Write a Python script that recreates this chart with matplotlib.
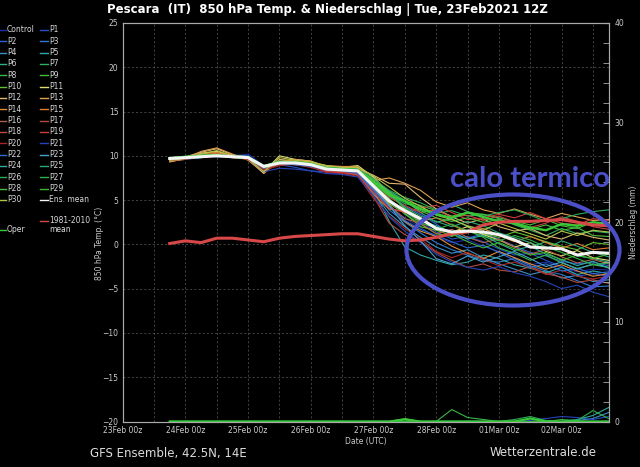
import numpy as np
import matplotlib
matplotlib.use("Agg")
import matplotlib.pyplot as plt
from matplotlib.lines import Line2D
from matplotlib.patches import Ellipse
from matplotlib.ticker import MultipleLocator

# valid times, hours after 23Feb 00z (6-hourly output)
hours = np.arange(18, 187, 6)
day_ticks = [0, 24, 48, 72, 96, 120, 144, 168]
day_labels = ["23Feb 00z", "24Feb 00z", "25Feb 00z", "26Feb 00z",
              "27Feb 00z", "28Feb 00z", "01Mar 00z", "02Mar 00z"]

# 850 hPa temperature (C) per member
t_control = [9.6, 9.8, 10.0, 10.1, 9.9, 10.2, 8.9, 9.3, 9.4, 9.0, 8.4, 8.2, 8.1, 6.0, 4.2, 3.0, 1.9, 0.8, 0.2, 0.5, -0.2, -0.8, -1.5, -2.3, -2.0, -2.6, -3.1, -2.8, -2.9]
t_p1 = [9.8, 9.7, 9.9, 10.2, 10.0, 9.7, 8.6, 9.0, 8.7, 8.3, 8.2, 8.0, 7.9, 6.4, 4.8, 3.5, 2.6, 1.4, 0.6, 0.9, 0.3, -0.5, -1.2, -1.0, -1.8, -2.5, -3.6, -3.3, -3.6]
t_p2 = [9.5, 9.9, 10.1, 9.9, 9.8, 9.9, 8.5, 9.1, 9.3, 9.1, 8.6, 8.5, 8.4, 7.0, 5.5, 4.3, 3.4, 2.3, 1.1, 0.7, 1.2, 0.6, -0.2, -0.9, -1.3, -1.9, -2.2, -2.0, -2.4]
t_p3 = [9.7, 9.6, 9.8, 10.0, 10.1, 10.0, 8.7, 9.4, 9.1, 8.8, 8.3, 8.4, 8.2, 6.3, 3.9, 2.5, 1.3, 0.2, -0.6, -1.2, -1.8, -2.0, -1.6, -2.4, -3.0, -3.4, -4.1, -4.8, -4.7]
t_p4 = [9.6, 9.8, 10.0, 9.9, 10.0, 9.8, 8.8, 9.2, 9.0, 8.9, 8.5, 8.3, 7.8, 5.8, 3.5, 2.0, 0.8, -0.3, -1.0, -0.6, -1.5, -2.2, -2.8, -3.4, -3.0, -3.8, -3.5, -4.2, -4.0]
t_p5 = [9.5, 9.7, 9.8, 10.1, 9.9, 9.9, 8.9, 9.3, 9.2, 8.9, 8.6, 8.5, 8.0, 6.2, 2.6, -0.3, -1.2, -1.8, -2.3, -2.0, -1.2, -1.6, -2.3, -2.7, -3.2, -2.6, -3.4, -3.0, -3.3]
t_p6 = [9.6, 9.8, 10.0, 10.0, 9.8, 9.7, 8.4, 9.1, 9.3, 9.2, 8.7, 8.6, 8.5, 7.3, 6.0, 5.0, 3.6, 2.5, 2.9, 2.0, 1.8, 1.1, 0.4, -0.3, 0.3, -0.4, -1.3, -1.6, -2.0]
t_p7 = [9.8, 9.9, 10.0, 10.1, 10.0, 9.9, 8.8, 9.3, 9.3, 9.1, 8.6, 8.6, 8.6, 7.5, 5.6, 4.6, 4.2, 3.5, 3.8, 3.2, 3.4, 2.9, 2.2, 1.6, 1.0, 1.8, 1.2, 1.5, 1.3]
t_p8 = [9.7, 9.9, 10.0, 10.0, 9.9, 9.8, 8.7, 9.2, 9.3, 9.1, 8.5, 8.5, 8.4, 6.8, 5.2, 3.4, 2.3, 1.2, 0.9, 1.6, 0.8, -0.4, -1.0, -1.8, -1.2, -2.1, -2.7, -2.3, -2.6]
t_p9 = [9.7, 9.8, 9.9, 10.0, 9.9, 9.9, 8.9, 9.3, 9.2, 9.0, 8.5, 8.4, 8.3, 6.9, 5.4, 4.9, 4.4, 3.8, 3.2, 3.6, 3.4, 3.0, 2.6, 2.2, 2.8, 2.1, 1.8, 2.5, 2.4]
t_p10 = [9.8, 9.8, 10.0, 10.0, 9.9, 9.8, 8.6, 9.0, 9.1, 8.9, 8.5, 8.4, 8.2, 6.6, 4.6, 3.5, 2.0, 1.6, 1.0, 1.5, 1.2, 0.8, 1.4, 0.9, 0.3, -0.2, -0.6, 0.2, 0.0]
t_p11 = [9.4, 9.6, 10.3, 10.5, 10.0, 9.9, 8.2, 10.0, 9.6, 9.4, 8.8, 8.7, 8.9, 7.6, 5.8, 4.0, 3.0, 1.9, 1.4, 2.0, 1.1, 0.5, -0.3, 0.2, -0.8, -1.3, -0.7, -1.5, -1.8]
t_p12 = [9.6, 9.9, 10.4, 10.8, 10.1, 9.6, 8.0, 9.6, 9.4, 9.1, 8.7, 8.8, 8.6, 7.8, 6.9, 6.8, 5.3, 4.0, 3.1, 2.4, 2.9, 2.0, 1.5, 1.8, 1.0, 0.6, 1.3, 0.8, 0.5]
t_p13 = [9.3, 9.7, 10.5, 10.9, 10.2, 9.5, 8.1, 9.4, 9.6, 9.4, 8.6, 8.4, 8.7, 7.2, 7.5, 6.9, 6.1, 4.8, 4.2, 4.7, 3.9, 3.5, 4.0, 3.4, 2.9, 3.5, 3.1, 2.7, 2.8]
t_p14 = [9.6, 9.8, 10.2, 10.4, 9.9, 9.6, 8.3, 9.2, 9.5, 9.3, 8.9, 8.8, 8.8, 6.5, 4.5, 2.6, 1.5, 0.9, -0.2, -1.0, -1.6, -0.8, -1.5, -2.2, -2.8, -2.3, -3.0, -3.6, -3.3]
t_p15 = [9.5, 9.7, 10.1, 10.3, 10.0, 9.8, 8.3, 9.1, 9.2, 9.0, 8.6, 8.3, 8.0, 5.6, 4.0, 3.7, 2.6, 3.0, 2.2, 1.4, 1.8, 1.0, 0.3, 0.9, 0.2, -0.4, 0.1, -0.6, -0.4]
t_p16 = [9.6, 9.8, 10.0, 10.2, 10.0, 9.8, 8.6, 9.2, 9.1, 8.8, 8.3, 8.1, 7.9, 6.2, 4.4, 2.9, 2.4, 1.2, 1.7, 0.8, 0.2, 0.6, -0.3, -1.1, -0.6, -1.4, -2.1, -1.7, -2.2]
t_p17 = [9.7, 9.9, 10.1, 10.1, 9.9, 9.9, 8.8, 9.4, 9.2, 8.9, 8.4, 8.2, 8.0, 5.4, 2.4, 1.1, 0.3, -0.9, -1.8, -2.6, -2.2, -2.9, -3.1, -2.5, -3.3, -3.7, -4.3, -4.0, -4.4]
t_p18 = [9.6, 9.7, 9.9, 10.0, 9.8, 9.7, 8.5, 9.0, 9.0, 8.8, 8.3, 8.2, 8.1, 6.7, 5.3, 4.4, 3.6, 3.9, 3.1, 3.3, 2.7, 3.2, 2.5, 1.9, 2.4, 3.1, 2.6, 2.0, 1.7]
t_p19 = [9.7, 9.8, 10.0, 10.1, 10.0, 9.9, 8.7, 9.1, 9.0, 8.7, 8.2, 8.1, 7.8, 5.9, 4.1, 3.6, 4.1, 4.4, 3.6, 2.8, 3.0, 3.4, 3.0, 3.6, 2.9, 2.4, 2.2, 2.9, 2.7]
t_p20 = [9.5, 9.6, 9.9, 10.0, 9.8, 9.6, 8.4, 8.9, 9.1, 8.8, 8.1, 8.0, 7.7, 5.2, 3.2, 1.8, 0.6, -0.8, -1.5, -0.9, -1.7, -2.4, -2.0, -2.6, -3.4, -2.9, -3.6, -3.9, -3.6]
t_p21 = [9.6, 9.8, 9.9, 10.0, 9.9, 9.7, 8.2, 8.6, 8.5, 8.3, 8.0, 7.9, 7.6, 5.5, 3.1, 1.5, 0.2, -1.1, -2.0, -2.6, -2.9, -2.5, -3.2, -3.6, -4.2, -5.0, -4.6, -5.4, -5.9]
t_p22 = [9.7, 9.8, 10.0, 10.1, 10.0, 9.8, 8.6, 9.2, 9.0, 8.8, 8.4, 8.3, 8.0, 6.1, 4.3, 2.7, 1.7, 1.0, 0.3, -0.4, -0.1, -0.9, -1.8, -2.6, -2.2, -3.0, -2.7, -3.3, -3.1]
t_p23 = [9.6, 9.7, 9.9, 10.0, 9.9, 9.8, 8.7, 9.1, 9.1, 9.0, 8.5, 8.4, 8.2, 6.4, 4.4, 2.1, 0.4, -1.6, -2.2, -1.3, -2.0, -1.4, -0.8, -1.6, -2.5, -2.0, -2.8, -2.2, -2.6]
t_p24 = [9.7, 9.8, 10.0, 10.0, 9.9, 9.8, 8.8, 9.3, 9.2, 9.0, 8.6, 8.5, 8.3, 6.7, 5.0, 3.9, 2.7, 2.1, 1.4, 0.6, 1.0, 0.1, -0.7, -0.2, -1.1, -1.7, -2.4, -1.9, -2.7]
t_p25 = [9.8, 9.9, 10.0, 10.0, 9.8, 9.7, 8.7, 9.2, 9.2, 9.0, 8.6, 8.5, 8.4, 7.1, 5.9, 4.2, 3.2, 2.6, 2.0, 2.6, 2.1, 1.3, 0.8, 0.2, -0.5, 0.4, -0.2, -0.9, -1.4]
t_p26 = [9.7, 9.9, 10.1, 10.1, 9.9, 9.8, 8.8, 9.3, 9.3, 9.1, 8.7, 8.6, 8.5, 7.4, 6.1, 5.3, 4.7, 3.9, 4.5, 3.7, 3.2, 3.6, 3.9, 3.3, 2.6, 2.9, 3.4, 3.7, 3.9]
t_p27 = [9.6, 9.8, 10.0, 10.0, 9.9, 9.8, 8.7, 9.2, 9.2, 9.0, 8.6, 8.5, 8.3, 7.0, 5.7, 4.1, 2.9, 1.7, 2.3, 1.5, 0.9, 0.4, 1.0, 0.5, -0.3, -0.9, -1.6, -2.3, -2.1]
t_p28 = [9.8, 9.9, 10.0, 10.1, 10.0, 9.9, 8.9, 9.4, 9.3, 9.1, 8.6, 8.5, 8.4, 7.2, 5.9, 4.8, 3.8, 3.0, 2.6, 3.0, 2.5, 2.8, 2.3, 1.7, 2.2, 1.6, 1.9, 1.0, 0.9]
t_p29 = [9.7, 9.8, 9.9, 10.0, 9.9, 9.8, 8.8, 9.3, 9.2, 9.0, 8.5, 8.4, 8.3, 6.9, 5.1, 3.8, 2.4, 1.9, 1.2, 0.3, -0.4, 0.2, -0.5, -1.2, -0.9, -1.8, -1.2, -1.6, -1.1]
t_p30 = [9.5, 9.7, 10.2, 10.6, 10.0, 9.7, 8.2, 9.8, 9.5, 9.3, 8.9, 8.7, 8.7, 7.7, 6.5, 5.2, 4.3, 3.3, 2.8, 2.1, 1.6, 2.4, 1.8, 1.2, 0.6, 1.5, 1.0, 1.6, 1.4]
t_oper = [9.7, 9.9, 10.0, 10.1, 9.9, 9.8, 8.8, 9.3, 9.3, 9.1, 8.6, 8.5, 8.4, 7.1, 5.6, 4.9, 4.0, 3.4, 3.0, 3.6, 3.1, 2.6, 2.4, 1.9, 1.6, 2.3, 2.1, 2.5, 2.3]
t_ens_mean = [9.7, 9.8, 9.9, 10.0, 9.9, 9.8, 8.8, 9.2, 9.2, 9.0, 8.5, 8.4, 8.3, 6.6, 4.9, 3.8, 2.9, 1.8, 1.4, 1.5, 1.4, 1.1, 0.5, -0.3, -0.4, -0.5, -1.2, -0.9, -1.0]
t_clim = [0.1, 0.4, 0.2, 0.7, 0.7, 0.5, 0.3, 0.7, 0.9, 1.0, 1.1, 1.2, 1.2, 0.9, 0.6, 0.4, 0.5, 0.8, 1.2, 1.4, 2.2, 2.5, 2.6, 2.6, 2.7, 2.8, 2.5, 2.2, 2.1]

# precipitation (mm), most members stay dry
no_rain = [0.0] * 29
rain_p4 = [0, 0, 0, 0, 0, 0, 0, 0, 0, 0, 0, 0, 0, 0, 0, 0, 0, 0, 0, 0, 0, 0, 0, 0, 0, 0, 0.1, 0.3, 0.9]
rain_p8 = [0, 0, 0, 0, 0, 0, 0, 0, 0, 0, 0, 0, 0, 0, 0, 0, 0, 0, 1.2, 0.4, 0.2, 0, 0, 0, 0, 0, 0, 0, 0]
rain_p9 = [0, 0, 0, 0, 0, 0, 0, 0, 0, 0, 0, 0, 0, 0, 0, 0.3, 0, 0, 0, 0, 0, 0, 0, 0, 0, 0, 0, 0, 0]
rain_p21 = [0, 0, 0, 0, 0, 0, 0, 0, 0, 0, 0, 0, 0, 0, 0, 0, 0, 0, 0, 0, 0, 0, 0, 0.1, 0.3, 0.5, 0.4, 0.2, 0.5]
rain_p24 = [0, 0, 0, 0, 0, 0, 0, 0, 0, 0, 0, 0, 0, 0, 0, 0, 0, 0, 0, 0, 0, 0, 0, 0, 0, 0, 0.2, 0.6, 1.4]
rain_p26 = [0, 0, 0, 0, 0, 0, 0, 0, 0, 0, 0, 0, 0, 0, 0, 0, 0, 0, 0, 0, 0, 0, 0.2, 0.5, 0.1, 0, 0, 0, 0]
rain_p27 = [0, 0, 0, 0, 0, 0, 0, 0, 0, 0, 0, 0, 0, 0, 0, 0, 0, 0, 0, 0, 0, 0, 0, 0, 0, 0.2, 0.1, 1.1, 0.3]
rain_oper = [0, 0, 0, 0, 0, 0, 0, 0, 0, 0, 0, 0, 0, 0, 0, 0.2, 0, 0, 0, 0, 0, 0, 0, 0.3, 0, 0, 0, 0, 0]

members = [
    ("Control", "#1c2fa8", t_control, no_rain),
    ("P1", "#2350c8", t_p1, no_rain),
    ("P2", "#2a64d0", t_p2, no_rain),
    ("P3", "#2f78d0", t_p3, no_rain),
    ("P4", "#3a90c8", t_p4, rain_p4),
    ("P5", "#2fa8a8", t_p5, no_rain),
    ("P6", "#2fb088", t_p6, no_rain),
    ("P7", "#2fb060", t_p7, no_rain),
    ("P8", "#38b848", t_p8, rain_p8),
    ("P9", "#44bc38", t_p9, rain_p9),
    ("P10", "#60c030", t_p10, no_rain),
    ("P11", "#dcdc70", t_p11, no_rain),
    ("P12", "#e0b870", t_p12, no_rain),
    ("P13", "#e0a050", t_p13, no_rain),
    ("P14", "#e08c38", t_p14, no_rain),
    ("P15", "#e07c30", t_p15, no_rain),
    ("P16", "#b06048", t_p16, no_rain),
    ("P17", "#b04c40", t_p17, no_rain),
    ("P18", "#c04840", t_p18, no_rain),
    ("P19", "#d03c3c", t_p19, no_rain),
    ("P20", "#a82828", t_p20, no_rain),
    ("P21", "#2444b8", t_p21, rain_p21),
    ("P22", "#2c6cd0", t_p22, no_rain),
    ("P23", "#48a0cc", t_p23, no_rain),
    ("P24", "#30aaa0", t_p24, rain_p24),
    ("P25", "#30a878", t_p25, no_rain),
    ("P26", "#30a858", t_p26, rain_p26),
    ("P27", "#30b044", t_p27, rain_p27),
    ("P28", "#4cc040", t_p28, no_rain),
    ("P29", "#40b430", t_p29, no_rain),
    ("P30", "#b4c448", t_p30, no_rain),
]
oper_color = "#38c838"
mean_color = "#f4f4f4"
clim_color = "#d84848"
grey = "#cccccc"

W, H = 640.0, 467.0


def fx(px):
    return px / W


def fy(py):
    return 1.0 - py / H


fig = plt.figure(figsize=(6.4, 4.67), dpi=100, facecolor="black")
ax = fig.add_axes([fx(122.7), fy(421.5), (608.6 - 122.7) / W, (421.5 - 23) / H],
                  facecolor="black")
ax2 = ax.twinx()

for name, col, temp, rain in members:
    ax.plot(hours, temp, color=col, lw=0.8)
ax.plot(hours, t_oper, color=oper_color, lw=1.7)
ax.plot(hours, t_clim, color=clim_color, lw=2.2)
ax.plot(hours, t_ens_mean, color=mean_color, lw=2.2)

for name, col, temp, rain in members:
    ax2.plot(hours, rain, color=col, lw=0.8)
ax2.plot(hours, rain_oper, color=oper_color, lw=1.6)

ax.set_xlim(0, 186)
ax.set_ylim(-20, 25)
ax2.set_ylim(0, 40)

ax.set_xticks(day_ticks)
ax.set_xticklabels(day_labels)
ax.xaxis.set_minor_locator(MultipleLocator(12))
ax.yaxis.set_major_locator(MultipleLocator(5))
ax.grid(which="both", axis="x", color="#5a5a5a", ls=(0, (3, 3)), lw=0.5)
ax.grid(which="major", axis="y", color="#5a5a5a", ls=(0, (3, 3)), lw=0.5)
ax.tick_params(axis="both", which="both", length=0, colors=grey, labelsize=5.5, pad=3)
ax.set_xlabel("Date (UTC)", fontsize=5.5, color=grey, labelpad=2)

ax2.yaxis.set_major_locator(MultipleLocator(10))
ax2.yaxis.set_minor_locator(MultipleLocator(2))
ax2.tick_params(axis="y", which="both", direction="in", length=4, color="#aaaaaa",
                labelcolor=grey, labelsize=5.5, pad=4)
ax2.set_ylabel("Niederschlag (mm)", fontsize=5.5, color=grey, labelpad=4)

for a in (ax, ax2):
    for s in a.spines.values():
        s.set_color("#aaaaaa")
        s.set_linewidth(0.8)

fig.text(fx(100), fy(243), "850 hPa Temp. (\u00b0C)", rotation=90, fontsize=5.5,
         color=grey, ha="center", va="center")

fig.text(fx(327), fy(10), "Pescara  (IT)  850 hPa Temp. & Niederschlag | Tue, 23Feb2021 12Z",
         fontsize=8.5, fontweight="bold", color="white", ha="center", va="center")
fig.text(fx(90), fy(453), "GFS Ensemble, 42.5N, 14E", fontsize=8.5, color="#dddddd",
         ha="left", va="center")
fig.text(fx(597), fy(453), "Wetterzentrale.de", fontsize=8.5, color="#dddddd",
         ha="right", va="center")

# legend, drawn by hand in two columns
row_y = 30.0
row_step = 11.33
col1 = [members[i] for i in range(0, 31, 2)]
col2 = [members[i] for i in range(1, 31, 2)] + [("Ens. mean", mean_color, None, None)]
for i, (name, col, _, _) in enumerate(col1):
    y = row_y + i * row_step
    fig.add_artist(Line2D([fx(0), fx(6)], [fy(y), fy(y)], color=col, lw=1.0))
    fig.text(fx(7), fy(y), name, fontsize=5.5, color="#d8d8d8", va="center")
for i, (name, col, _, _) in enumerate(col2):
    y = row_y + i * row_step
    fig.add_artist(Line2D([fx(40), fx(48)], [fy(y), fy(y)], color=col, lw=1.0))
    fig.text(fx(49), fy(y), name, fontsize=5.5, color="#d8d8d8", va="center")
fig.add_artist(Line2D([fx(40), fx(48)], [fy(221), fy(221)], color=clim_color, lw=1.0))
fig.text(fx(49), fy(216.5), "1981-2010\nmean", fontsize=5.5, color="#d8d8d8",
         va="top", linespacing=1.0)
fig.add_artist(Line2D([fx(0), fx(6)], [fy(230), fy(230)], color=oper_color, lw=1.0))
fig.text(fx(7), fy(230), "Oper", fontsize=5.5, color="#d8d8d8", va="center")

# hand-drawn note on top of the chart
fig.add_artist(Ellipse((fx(513), fy(250)), 213 / W, 111 / H, transform=fig.transFigure,
                       fill=False, edgecolor="#4b50c8", lw=3))
fig.text(fx(530), fy(179), "calo termico", fontsize=21, fontweight="bold",
         family=["Lato", "DejaVu Sans"], color="#4b50c8", ha="center", va="center")

fig.savefig("out.png", dpi=100, facecolor="black")
